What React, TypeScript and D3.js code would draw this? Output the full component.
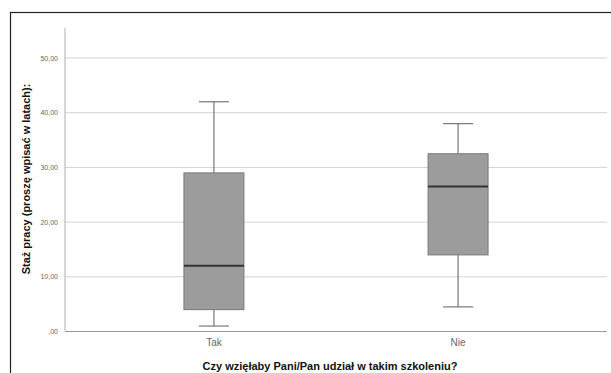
import React from "react";
import * as d3 from "d3";

const categories = ["Tak", "Nie"];
const whiskerLow = [1, 4.5];
const q1 = [4, 14];
const median = [12, 26.5];
const q3 = [29, 32.5];
const whiskerHigh = [42, 38];
const yTicks = [0, 10, 20, 30, 40, 50];

const W = 611;
const H = 373;

const fmt = (v: number) => (v === 0 ? ",00" : v.toFixed(2).replace(".", ","));

const App = () => {
  const y = d3.scaleLinear().domain([0, 50]).range([331.5, 58]);
  const x = d3.scalePoint<string>().domain(categories).range([65, 607]).padding(0.61);
  const boxW = 60;
  const capW = 30;
  const font = "'Liberation Sans', Arial, sans-serif";

  return (
    <div style={{ position: "absolute", left: 0, top: 0 }}>
      <svg width={W} height={H} style={{ display: "block", background: "#fff" }}>
        <rect x={10.5} y={12.5} width={700} height={500} fill="none" stroke="#222" strokeWidth={1.2} />
        {yTicks.slice(1).map((t) => (
          <line key={t} x1={65} x2={607} y1={y(t)} y2={y(t)} stroke="#d2d2d2" strokeWidth={1} />
        ))}
        <line x1={65} x2={65} y1={y(55.5)} y2={y(0)} stroke="#b0b0b0" strokeWidth={1} />
        <line x1={65} x2={607} y1={y(0)} y2={y(0)} stroke="#9a9a9a" strokeWidth={1} />
        {yTicks.map((t) => (
          <text key={t} x={58} y={y(t) + 2.5} textAnchor="end" fontSize={7} fill="#666" fontFamily={font}>
            {fmt(t)}
          </text>
        ))}
        {categories.map((c, i) => {
          const cx = x(c) as number;
          return (
            <g key={c}>
              <line x1={cx} x2={cx} y1={y(whiskerHigh[i])} y2={y(q3[i])} stroke="#777" strokeWidth={1.2} />
              <line x1={cx} x2={cx} y1={y(q1[i])} y2={y(whiskerLow[i])} stroke="#777" strokeWidth={1.2} />
              <line x1={cx - capW / 2} x2={cx + capW / 2} y1={y(whiskerHigh[i])} y2={y(whiskerHigh[i])} stroke="#777" strokeWidth={1.2} />
              <line x1={cx - capW / 2} x2={cx + capW / 2} y1={y(whiskerLow[i])} y2={y(whiskerLow[i])} stroke="#777" strokeWidth={1.2} />
              <rect x={cx - boxW / 2} y={y(q3[i])} width={boxW} height={y(q1[i]) - y(q3[i])} fill="#9c9c9c" stroke="#7a7a7a" strokeWidth={1} />
              <line x1={cx - boxW / 2} x2={cx + boxW / 2} y1={y(median[i])} y2={y(median[i])} stroke="#333" strokeWidth={2} />
              <text x={cx} y={345.5} textAnchor="middle" fontSize={10} fill="#666" fontFamily={font}>
                {c}
              </text>
            </g>
          );
        })}
        <text x={330} y={370} textAnchor="middle" fontSize={11} fontWeight="bold" fill="#111" fontFamily={font}>
          Czy wzięłaby Pani/Pan udział w takim szkoleniu?
        </text>
        <text
          transform="translate(30,179) rotate(-90)"
          textAnchor="middle"
          fontSize={11}
          fontWeight="bold"
          fill="#111"
          fontFamily={font}
        >
          Staż pracy (proszę wpisać w latach):
        </text>
      </svg>
    </div>
  );
};

export default App;
